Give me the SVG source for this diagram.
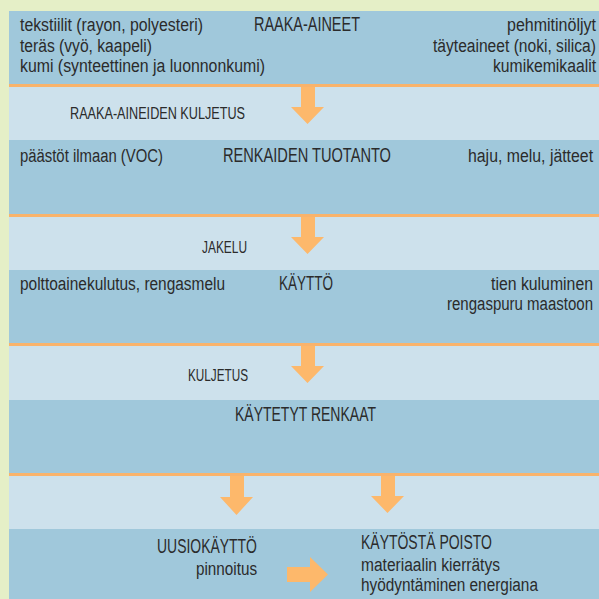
<svg xmlns="http://www.w3.org/2000/svg" width="599" height="599" viewBox="0 0 599 599">
<style>
.dark{fill:#A0C8DB}
.light{fill:#CDE1EC}
.rule{fill:#F9B36B}
.arrow{fill:#FDB86B}
text{font-family:"Liberation Sans",Arial,sans-serif;fill:#2B2B2B}
.t{font-size:20px}
.b{font-size:19px}
.s{font-size:17px}
</style>
<rect x="0" y="0" width="599" height="599" fill="#E5EFC7"/>
<g id="raaka-aineet">
<rect class="dark" x="9" y="11" width="590" height="73"/>
<text class="b" transform="translate(20,31) scale(0.85,1)" textLength="215.3" lengthAdjust="spacingAndGlyphs">tekstiilit (rayon, polyesteri)</text>
<text class="b" transform="translate(20,52) scale(0.85,1)" textLength="155.3" lengthAdjust="spacingAndGlyphs">teräs (vyö, kaapeli)</text>
<text class="b" transform="translate(20,72) scale(0.85,1)" textLength="288.2" lengthAdjust="spacingAndGlyphs">kumi (synteettinen ja luonnonkumi)</text>
<text class="t" transform="translate(254,31) scale(0.74,1)" textLength="143.2" lengthAdjust="spacingAndGlyphs">RAAKA-AINEET</text>
<text class="b" transform="translate(507,31) scale(0.85,1)" textLength="104.7" lengthAdjust="spacingAndGlyphs">pehmitinöljyt</text>
<text class="b" transform="translate(433,52) scale(0.8,1)" textLength="203.7" lengthAdjust="spacingAndGlyphs">täyteaineet (noki, silica)</text>
<text class="b" transform="translate(493,72) scale(0.85,1)" textLength="121.2" lengthAdjust="spacingAndGlyphs">kumikemikaalit</text>
</g>
<g id="kuljetus1">
<rect class="rule" x="9" y="84" width="590" height="3"/>
<rect class="light" x="9" y="87" width="590" height="53"/>
<text class="s" transform="translate(70,119) scale(0.74,1)" textLength="236.5" lengthAdjust="spacingAndGlyphs">RAAKA-AINEIDEN KULJETUS</text>
</g>
<g id="tuotanto">
<rect class="dark" x="9" y="140" width="590" height="74"/>
<text class="b" transform="translate(20,162) scale(0.85,1)" textLength="168.2" lengthAdjust="spacingAndGlyphs">päästöt ilmaan (VOC)</text>
<text class="t" transform="translate(223,162) scale(0.74,1)" textLength="227" lengthAdjust="spacingAndGlyphs">RENKAIDEN TUOTANTO</text>
<text class="b" transform="translate(468,162) scale(0.85,1)" textLength="147.1" lengthAdjust="spacingAndGlyphs">haju, melu, jätteet</text>
</g>
<g id="jakelu">
<rect class="rule" x="9" y="214" width="590" height="3"/>
<rect class="light" x="9" y="217" width="590" height="53"/>
<text class="s" transform="translate(202,253) scale(0.74,1)" textLength="60.8" lengthAdjust="spacingAndGlyphs">JAKELU</text>
</g>
<g id="kaytto">
<rect class="dark" x="9" y="270" width="590" height="73"/>
<text class="b" transform="translate(20,290) scale(0.85,1)" textLength="241.2" lengthAdjust="spacingAndGlyphs">polttoainekulutus, rengasmelu</text>
<text class="t" transform="translate(279,290) scale(0.74,1)" textLength="73" lengthAdjust="spacingAndGlyphs">KÄYTTÖ</text>
<text class="b" transform="translate(491,290) scale(0.85,1)" textLength="120" lengthAdjust="spacingAndGlyphs">tien kuluminen</text>
<text class="b" transform="translate(447,310) scale(0.77,1)" textLength="189.6" lengthAdjust="spacingAndGlyphs">rengaspuru maastoon</text>
</g>
<g id="kuljetus2">
<rect class="rule" x="9" y="343" width="590" height="3"/>
<rect class="light" x="9" y="346" width="590" height="54"/>
<text class="s" transform="translate(188,381) scale(0.74,1)" textLength="81.1" lengthAdjust="spacingAndGlyphs">KULJETUS</text>
</g>
<g id="kaytetyt-renkaat">
<rect class="dark" x="9" y="400" width="590" height="73"/>
<text class="t" transform="translate(235,421) scale(0.74,1)" textLength="190.5" lengthAdjust="spacingAndGlyphs">KÄYTETYT RENKAAT</text>
</g>
<g id="valikaista">
<rect class="rule" x="9" y="473" width="590" height="3"/>
<rect class="light" x="9" y="476" width="590" height="53"/>
</g>
<g id="alaosa">
<rect class="dark" x="9" y="529" width="590" height="70"/>
</g>
<g id="uusiokaytto">
<text class="t" transform="translate(157,553) scale(0.74,1)" textLength="135.1" lengthAdjust="spacingAndGlyphs">UUSIOKÄYTTÖ</text>
<text class="b" transform="translate(196,575) scale(0.85,1)" textLength="71.8" lengthAdjust="spacingAndGlyphs">pinnoitus</text>
</g>
<g id="kaytosta-poisto">
<text class="t" transform="translate(361,549) scale(0.74,1)" textLength="177" lengthAdjust="spacingAndGlyphs">KÄYTÖSTÄ POISTO</text>
<text class="b" transform="translate(361,571) scale(0.85,1)" textLength="163.5" lengthAdjust="spacingAndGlyphs">materiaalin kierrätys</text>
<text class="b" transform="translate(361,591) scale(0.85,1)" textLength="208.2" lengthAdjust="spacingAndGlyphs">hyödyntäminen energiana</text>
</g>
<g id="connectors">
<polygon class="arrow" points="301,87 315,87 315,107 324,107 307.5,124 291,107 301,107"/>
<polygon class="arrow" points="301,217 315,217 315,237 324,237 307.5,254 291,237 301,237"/>
<polygon class="arrow" points="301,346 315,346 315,366 324,366 307.5,383 291,366 301,366"/>
<polygon class="arrow" points="230,476 244,476 244,497 253,497 236.5,515 220,497 230,497"/>
<polygon class="arrow" points="381,476 395,476 395,496 404,496 387.5,513 371,496 381,496"/>
<polygon class="arrow" points="287,567 310,567 310,557 328,574.5 310,592 310,582 287,582"/>
</g>
</svg>
